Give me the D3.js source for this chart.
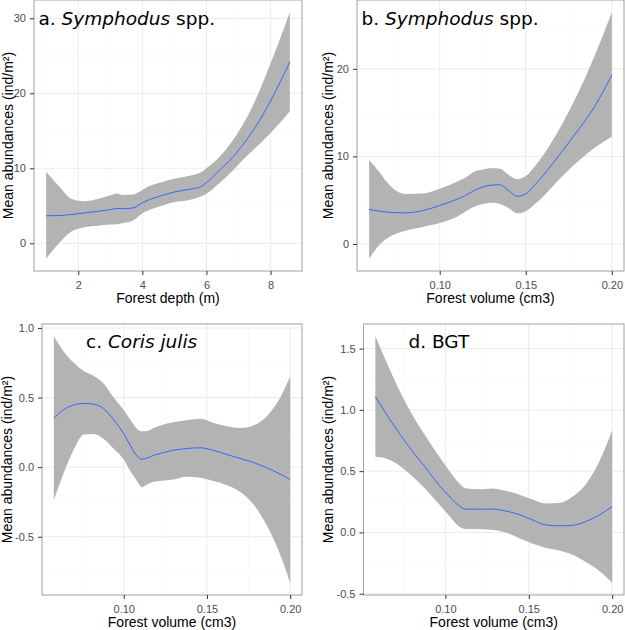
<!DOCTYPE html>
<html><head><meta charset="utf-8">
<script src="https://cdn.jsdelivr.net/npm/d3@7"></script>
<style>body{margin:0;background:#fff} svg{display:block}</style>
</head><body><svg id="chart" width="625" height="630"></svg>
<script>
// ---------- DATA ----------
// Panel a: Symphodus spp. vs forest depth
const aX     = [1.0, 1.4, 1.8, 2.2, 2.6, 3.0, 3.2, 3.4, 3.7, 4.0, 4.2, 4.6, 5.0, 5.4, 5.8, 6.0, 6.4, 6.8, 7.2, 7.6, 8.0, 8.3, 8.6];
const aFit   = [3.66, 3.7, 3.85, 4.05, 4.25, 4.5, 4.65, 4.62, 4.7, 5.4, 5.8, 6.35, 6.85, 7.15, 7.5, 8.1, 9.7, 11.4, 13.5, 16.0, 19.0, 21.5, 24.2];
const aUpper = [9.55, 7.6, 5.9, 5.6, 5.9, 6.4, 6.65, 6.45, 6.5, 7.1, 7.6, 8.15, 8.6, 8.95, 9.4, 10.0, 11.5, 13.6, 16.3, 19.8, 24.0, 27.3, 30.8];
const aLower = [-2.05, 0.0, 1.6, 2.15, 2.35, 2.5, 2.55, 2.7, 3.0, 4.0, 4.4, 5.0, 5.5, 5.7, 6.2, 6.6, 8.0, 9.6, 11.4, 13.0, 14.7, 16.1, 17.6];
const aXTicks = [2, 4, 6, 8];
const aXLabels = ["2", "4", "6", "8"];
const aYTicks = [0, 10, 20, 30];
const aYLabels = ["0", "10", "20", "30"];

// Panel b: Symphodus spp. vs forest volume
const bX     = [0.059, 0.065, 0.07, 0.08, 0.09, 0.10, 0.11, 0.115, 0.12, 0.125, 0.13, 0.135, 0.14, 0.145, 0.15, 0.155, 0.16, 0.17, 0.18, 0.19, 0.20];
const bFit   = [3.93, 3.75, 3.63, 3.55, 3.8, 4.39, 5.1, 5.55, 6.1, 6.5, 6.72, 6.76, 6.1, 5.45, 5.7, 6.7, 7.8, 10.3, 12.9, 15.7, 19.3];
const bUpper = [9.58, 8.2, 6.9, 5.7, 5.75, 6.3, 7.1, 7.6, 8.25, 8.5, 8.65, 8.6, 7.9, 7.4, 7.75, 8.8, 10.1, 13.3, 17.1, 21.5, 26.45];
const bLower = [-1.68, -0.1, 0.7, 1.5, 1.95, 2.4, 3.1, 3.7, 4.25, 4.55, 4.7, 4.55, 4.1, 3.5, 3.74, 4.5, 5.4, 7.5, 9.4, 11.0, 12.25];
const bXTicks = [0.10, 0.15, 0.20];
const bXLabels = ["0.10", "0.15", "0.20"];
const bYTicks = [0, 10, 20];
const bYLabels = ["0", "10", "20"];

// Panel c: Coris julis vs forest volume
const cX     = [0.058, 0.064, 0.07, 0.076, 0.082, 0.088, 0.094, 0.10, 0.104, 0.108, 0.111, 0.114, 0.118, 0.122, 0.13, 0.138, 0.146, 0.154, 0.162, 0.17, 0.178, 0.186, 0.194, 0.20];
const cFit   = [0.35, 0.414, 0.447, 0.458, 0.452, 0.42, 0.34, 0.24, 0.155, 0.08, 0.057, 0.065, 0.085, 0.098, 0.122, 0.134, 0.139, 0.12, 0.091, 0.062, 0.033, -0.005, -0.05, -0.089];
const cUpper = [0.94, 0.83, 0.75, 0.69, 0.655, 0.6, 0.5, 0.41, 0.34, 0.275, 0.258, 0.26, 0.282, 0.3, 0.323, 0.337, 0.347, 0.318, 0.294, 0.282, 0.3, 0.366, 0.5, 0.653];
const cLower = [-0.237, -0.04, 0.127, 0.234, 0.239, 0.203, 0.132, 0.055, -0.03, -0.1, -0.144, -0.125, -0.105, -0.1, -0.089, -0.069, -0.077, -0.1, -0.13, -0.178, -0.268, -0.42, -0.63, -0.83];
const cXTicks = [0.10, 0.15, 0.20];
const cXLabels = ["0.10", "0.15", "0.20"];
const cYTicks = [-0.5, 0.0, 0.5, 1.0];
const cYLabels = ["-0.5", "0.0", "0.5", "1.0"];

// Panel d: BGT vs forest volume
const dX     = [0.058, 0.064, 0.072, 0.08, 0.088, 0.096, 0.102, 0.108, 0.112, 0.12, 0.128, 0.136, 0.144, 0.152, 0.16, 0.168, 0.176, 0.184, 0.192, 0.20];
const dFit   = [1.106, 0.978, 0.815, 0.666, 0.53, 0.39, 0.3, 0.22, 0.19, 0.19, 0.19, 0.175, 0.147, 0.103, 0.062, 0.054, 0.058, 0.088, 0.14, 0.21];
const dUpper = [1.6, 1.41, 1.17, 0.965, 0.788, 0.625, 0.51, 0.405, 0.36, 0.352, 0.359, 0.34, 0.31, 0.27, 0.236, 0.24, 0.29, 0.39, 0.57, 0.834];
const dLower = [0.617, 0.605, 0.55, 0.46, 0.355, 0.235, 0.14, 0.05, 0.027, 0.027, 0.022, 0.0, -0.045, -0.09, -0.125, -0.147, -0.18, -0.24, -0.31, -0.41];
const dXTicks = [0.10, 0.15, 0.20];
const dXLabels = ["0.10", "0.15", "0.20"];
const dYTicks = [-0.5, 0.0, 0.5, 1.0, 1.5];
const dYLabels = ["-0.5", "0.0", "0.5", "1.0", "1.5"];

const yTitle = "Mean abundances (ind/m²)";
const xTitleDepth = "Forest depth (m)";
const xTitleVolume = "Forest volume (cm3)";

// ---------- LAYOUT ----------
const svg = d3.select("#chart");
const tickFont = "'Liberation Sans', Arial, sans-serif";
const titleFont = "'DejaVu Sans', Verdana, sans-serif";

const panels = [
  {x: aX, fit: aFit, hi: aUpper, lo: aLower, xt: aXTicks, xl: aXLabels, yt: aYTicks, yl: aYLabels,
   left: 34, right: 302, top: 0, bottom: 271, ytx: 12.5, xtitle: xTitleDepth,
   title: [{t: "a. ", i: false}, {t: "Symphodus", i: true}, {t: " spp.", i: false}], tdx: 4.5, tdy: 25},
  {x: bX, fit: bFit, hi: bUpper, lo: bLower, xt: bXTicks, xl: bXLabels, yt: bYTicks, yl: bYLabels,
   left: 357, right: 624, top: 0, bottom: 271, ytx: 333, xtitle: xTitleVolume,
   title: [{t: "b. ", i: false}, {t: "Symphodus", i: true}, {t: " spp.", i: false}], tdx: 4.5, tdy: 25},
  {x: cX, fit: cFit, hi: cUpper, lo: cLower, xt: cXTicks, xl: cXLabels, yt: cYTicks, yl: cYLabels,
   left: 42, right: 302, top: 324, bottom: 595, ytx: 12, xtitle: xTitleVolume,
   title: [{t: "c. ", i: false}, {t: "Coris julis", i: true}], tdx: 44, tdy: 23.5},
  {x: dX, fit: dFit, hi: dUpper, lo: dLower, xt: dXTicks, xl: dXLabels, yt: dYTicks, yl: dYLabels,
   left: 363.5, right: 624, top: 324, bottom: 595, ytx: 333, xtitle: xTitleVolume,
   title: [{t: "d. BGT", i: false}], tdx: 45, tdy: 23.5}
];

function expand(ext) {
  const pad = (ext[1] - ext[0]) * 0.05;
  return [ext[0] - pad, ext[1] + pad];
}
function minors(ticks, dom) {
  const step = ticks[1] - ticks[0];
  const out = [];
  for (let i = -1; i < ticks.length; i++) {
    const v = ticks[0] + step * (i + 0.5);
    if (v > dom[0] && v < dom[1]) out.push(v);
  }
  return out;
}

panels.forEach(p => {
  const g = svg.append("g");
  const xd = expand(d3.extent(p.x));
  const yd = expand([d3.min(p.lo), d3.max(p.hi)]);
  const xs = d3.scaleLinear().domain(xd).range([p.left, p.right]);
  const ys = d3.scaleLinear().domain(yd).range([p.bottom, p.top]);

  // grid
  const grid = g.append("g");
  minors(p.xt, xd).forEach(v => grid.append("line").attr("x1", xs(v)).attr("x2", xs(v))
    .attr("y1", p.top).attr("y2", p.bottom).attr("stroke", "#f6f6f6").attr("stroke-width", 0.6));
  minors(p.yt, yd).forEach(v => grid.append("line").attr("y1", ys(v)).attr("y2", ys(v))
    .attr("x1", p.left).attr("x2", p.right).attr("stroke", "#f6f6f6").attr("stroke-width", 0.6));
  p.xt.forEach(v => grid.append("line").attr("x1", xs(v)).attr("x2", xs(v))
    .attr("y1", p.top).attr("y2", p.bottom).attr("stroke", "#ebebeb").attr("stroke-width", 1));
  p.yt.forEach(v => grid.append("line").attr("y1", ys(v)).attr("y2", ys(v))
    .attr("x1", p.left).attr("x2", p.right).attr("stroke", "#ebebeb").attr("stroke-width", 1));

  // ribbon and fit
  const rows = p.x.map((x, i) => ({x: x, f: p.fit[i], lo: p.lo[i], hi: p.hi[i]}));
  g.append("path").datum(rows)
    .attr("d", d3.area().x(d => xs(d.x)).y0(d => ys(d.lo)).y1(d => ys(d.hi)).curve(d3.curveMonotoneX))
    .attr("fill", "#b3b3b3");
  g.append("path").datum(rows)
    .attr("d", d3.line().x(d => xs(d.x)).y(d => ys(d.f)).curve(d3.curveMonotoneX))
    .attr("fill", "none").attr("stroke", "#3366FF").attr("stroke-width", 1);

  // border
  g.append("rect").attr("x", p.left).attr("y", p.top)
    .attr("width", p.right - p.left).attr("height", p.bottom - p.top)
    .attr("fill", "none").attr("stroke", "#a0a0a0").attr("stroke-width", 1);

  // axes
  const xa = g.append("g").attr("transform", `translate(0,${p.bottom})`)
    .call(d3.axisBottom(xs).tickValues(p.xt).tickFormat((d, i) => p.xl[i]).tickSize(4).tickPadding(6).tickSizeOuter(0));
  const ya = g.append("g").attr("transform", `translate(${p.left},0)`)
    .call(d3.axisLeft(ys).tickValues(p.yt).tickFormat((d, i) => p.yl[i]).tickSize(4).tickPadding(4).tickSizeOuter(0));
  [xa, ya].forEach(a => {
    a.select(".domain").remove();
    a.selectAll(".tick line").attr("stroke", "#333333");
    a.selectAll(".tick text").attr("fill", "#4d4d4d").style("font-family", tickFont).style("font-size", "11px");
  });

  // axis titles
  g.append("text").attr("x", (p.left + p.right) / 2).attr("y", p.bottom + 31.5)
    .attr("text-anchor", "middle").style("font-family", tickFont).style("font-size", "14px")
    .attr("fill", "#000").text(p.xtitle);
  g.append("text").attr("transform", `translate(${p.ytx},${(p.top + p.bottom) / 2}) rotate(-90)`)
    .attr("text-anchor", "middle").style("font-family", tickFont).style("font-size", "14px")
    .attr("fill", "#000").text(yTitle);

  // panel title
  const t = g.append("text").attr("x", p.left + p.tdx).attr("y", p.top + p.tdy)
    .style("font-family", titleFont).style("font-size", "18.5px").attr("fill", "#000");
  p.title.forEach(s => t.append("tspan").style("font-style", s.i ? "italic" : "normal").text(s.t));
});
</script></body></html>
